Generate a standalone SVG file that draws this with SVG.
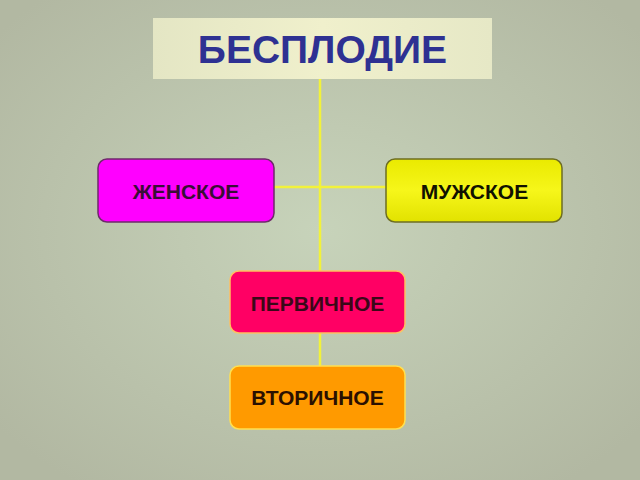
<svg xmlns="http://www.w3.org/2000/svg" width="640" height="480" viewBox="0 0 640 480">
<defs>
<radialGradient id="bg" cx="50%" cy="48%" r="65%">
<stop offset="0" stop-color="#c7d3ba"/>
<stop offset="1" stop-color="#b2b8a2"/>
</radialGradient>
<linearGradient id="title" x1="0" y1="0" x2="1" y2="0">
<stop offset="0" stop-color="#e4e6c4"/>
<stop offset="0.5" stop-color="#f0f0cc"/>
<stop offset="1" stop-color="#e6e8c6"/>
</linearGradient>
<linearGradient id="yel" x1="0" y1="0" x2="0" y2="1">
<stop offset="0" stop-color="#eaea00"/>
<stop offset="0.5" stop-color="#f6f61a"/>
<stop offset="1" stop-color="#e2e200"/>
</linearGradient>
</defs>
<style>
.box{stroke-width:1.5}
.lbl{font-family:"Liberation Sans",Arial,sans-serif;font-weight:bold;font-size:21px;text-anchor:middle}
.con{stroke:#f2f23a;stroke-width:2.5;fill:none}
</style>
<rect width="640" height="480" fill="url(#bg)"/>
<g id="connectors">
<line class="con" x1="320" y1="79" x2="320" y2="271"/>
<line class="con" x1="274" y1="187" x2="386" y2="187"/>
<line class="con" x1="320" y1="333" x2="320" y2="366"/>
</g>
<g id="title-node">
<rect x="153" y="18" width="339" height="61" fill="url(#title)"/>
<text x="322.500" y="63" font-family="Liberation Sans,Arial,sans-serif" font-weight="bold" font-size="39" fill="#2e3192" text-anchor="middle">БЕСПЛОДИЕ</text>
</g>
<g id="female">
<rect class="box" x="98" y="159" width="176" height="63" rx="9" fill="#ff00ff" stroke="#6e2a6a"/>
<text class="lbl" x="186" y="199" fill="#3a0d36">ЖЕНСКОЕ</text>
</g>
<g id="male">
<rect class="box" x="386" y="159" width="176" height="63" rx="9" fill="url(#yel)" stroke="#6e6e22"/>
<text class="lbl" x="474.500" y="199" fill="#111100">МУЖСКОЕ</text>
</g>
<g id="primary">
<rect class="box" x="230" y="271" width="175" height="62" rx="9" fill="#ff0064" stroke="#ffc060"/>
<text class="lbl" x="317.500" y="311" fill="#3a0818">ПЕРВИЧНОЕ</text>
</g>
<g id="secondary">
<rect class="box" x="230" y="366" width="175" height="63" rx="9" fill="#ff9a00" stroke="#ffe050"/>
<text class="lbl" x="317.500" y="405" fill="#2a1000">ВТОРИЧНОЕ</text>
</g>
</svg>
